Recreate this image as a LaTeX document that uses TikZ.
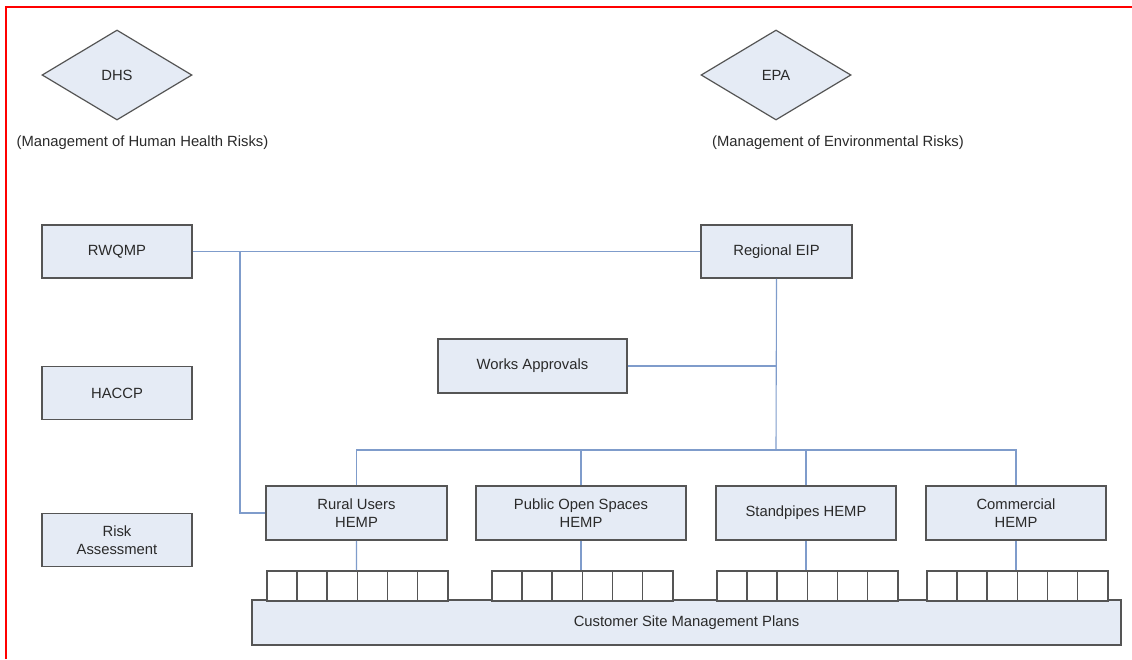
\documentclass[tikz,border=0pt]{standalone}
\usepackage{fontspec}
\setmainfont{Liberation Sans}
\usetikzlibrary{shapes.geometric}
\definecolor{boxfill}{HTML}{E5EBF5}
\definecolor{boxline}{HTML}{555555}
\definecolor{conn}{HTML}{7F9CCB}
\definecolor{txt}{HTML}{2A2A2A}
\tikzset{
  base/.style={draw=boxline, fill=boxfill, line width=1.5pt, inner sep=0pt, text=txt,
    font=\fontsize{14.8}{18.5}\selectfont, align=center},
  rbox/.style={base, rectangle, minimum width=150pt, minimum height=53pt},
  dia/.style={base, diamond, line width=1.2pt, minimum width=150pt, minimum height=90pt},
  hemp/.style={base, rectangle, minimum width=181pt, minimum height=54pt},
  cell/.style={draw=boxline, fill=white, line width=1.5pt, inner sep=0pt, minimum width=30.17pt, minimum height=30pt},
  lbl/.style={text=txt, font=\fontsize{14.8}{18.5}\selectfont, inner sep=0pt},
  link/.style={draw=conn, line width=1.1pt},
}
\begin{document}
\begin{tikzpicture}[x=1pt,y=-1pt]
\useasboundingbox (0,0) rectangle (1132,659);
\fill[white] (0,0) rectangle (1132,659);
\draw[red, line width=2.2pt] (6,659) -- (6,7) -- (1132,7);

\node[dia] (dhs) at (117,75) {DHS};
\node[lbl] (dhsl) at (142.5,143) {(Management of Human Health Risks)};
\node[dia] (epa) at (776,75) {EPA};
\node[lbl] (epal) at (838,143) {(Management of Environmental Risks)};

\node[rbox] (rwqmp) at (117,251.5) {RWQMP};
\node[rbox] (haccp) at (117,393) {HACCP};
\node[rbox] (risk) at (117,540) {Risk\\Assessment};
\node[rbox, minimum width=151pt] (eip) at (776.5,251.5) {Regional EIP};
\node[rbox, minimum width=189pt, minimum height=54pt] (works) at (532.5,366) {Works Approvals};

\node[hemp] (rural) at (356.5,513) {Rural Users\\HEMP};
\node[hemp, minimum width=210pt] (pos) at (581,513) {Public Open Spaces\\HEMP};
\node[hemp, minimum width=180pt] (stand) at (806,513) {Standpipes HEMP};
\node[hemp, minimum width=180pt] (comm) at (1016,513) {Commercial\\HEMP};

\node[base, rectangle, minimum width=869pt, minimum height=45pt] (csmp) at (686.5,622.5) {Customer Site Management Plans};

\foreach \g/\x in {a/266,b/491,c/716,d/926}{
  \foreach \i in {1,...,6}{
    \node[cell, anchor=north west] (\g\i) at ({\x+(\i-1)*30.17},570) {};
  }
}

% connectors
\coordinate (j1) at (240,252);
\coordinate (j2) at (776,450);
\draw[link] (rwqmp.east) -- (eip.west);
\draw[link] (j1) |- (rural.west);
\draw[link] (eip.south) -- (j2);
\draw[link] (works.east) -- (works.east -| eip.south);
\draw[link] (rural.north) |- (j2);
\draw[link] (j2) -| (comm.north);
\draw[link] (pos.north) -- (pos.north |- j2);
\draw[link] (stand.north) -- (stand.north |- j2);
\draw[link] (rural.south) -- (a4.north west);
\draw[link] (pos.south) -- (pos.south |- b4.north);
\draw[link] (stand.south) -- (stand.south |- c4.north);
\draw[link] (comm.south) -- (comm.south |- d4.north);
\end{tikzpicture}
\end{document}
